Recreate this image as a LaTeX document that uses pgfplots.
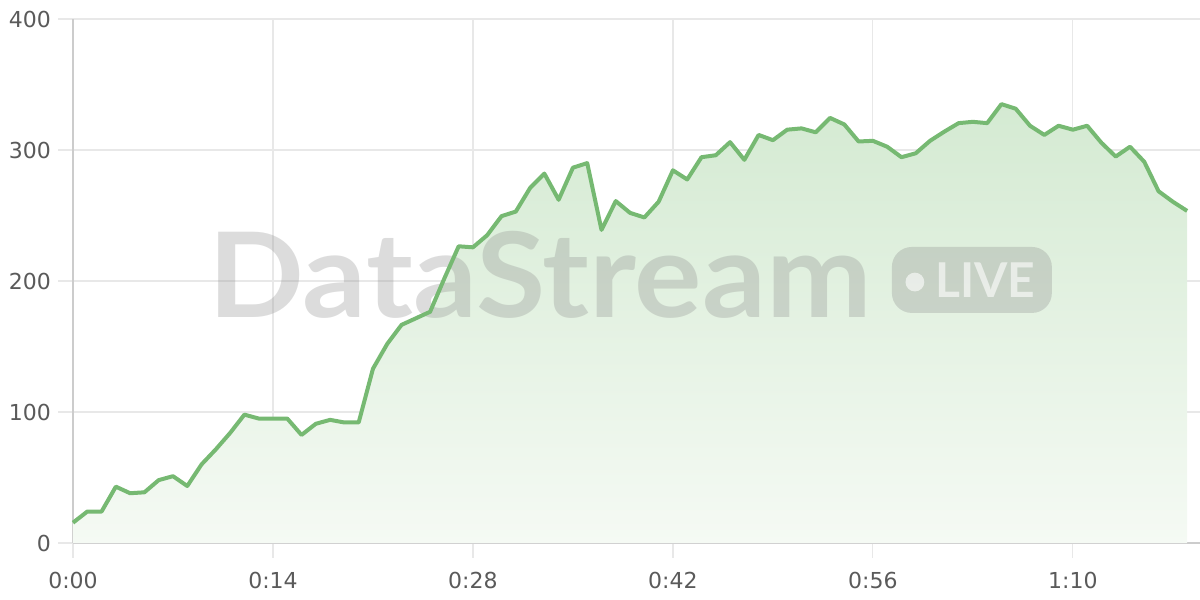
\documentclass[border=0pt]{standalone}
\usepackage{fontspec}
\setmainfont{DejaVu Sans}
\newfontfamily\wmfont{Lato}
\usepackage{pgfplots}
\usepackage{pgfplotstable}
\pgfplotsset{compat=1.18}
\definecolor{linegreen}{RGB}{118,185,114}
\definecolor{filltop}{RGB}{212,234,210}
\definecolor{fillbot}{RGB}{245,250,244}
\definecolor{gridgray}{RGB}{232,232,232}
\definecolor{axisgray}{RGB}{204,204,204}
\definecolor{labelgray}{RGB}{90,90,90}
\definecolor{wmgray}{RGB}{140,140,140}

\pgfplotstableread{
t v
0 15.5
1 24
2 24
3 43
4 38
5 38.7
6 48
7 51
8 43.5
9 60
10 71.5
11 84
12 98
13 95
14 95
15 95
16 82.5
17 91
18 94
19 92
20 92
21 133
22 152
23 166.5
24 171.5
25 176.5
26 202
27 226.5
28 225.7
29 235
30 249.5
31 253
32 271
33 282
34 262
35 286.5
36 290
37 239
38 261
39 252
40 248.5
41 260.5
42 284.5
43 277.5
44 294.5
45 296
46 306
47 292.5
48 311.5
49 307.5
50 315.5
51 316.5
52 313.5
53 324.5
54 319.5
55 306.5
56 307
57 302.5
58 294.5
59 297.5
60 307
61 314
62 320.5
63 321.5
64 320.5
65 335
66 331.5
67 318.5
68 311.5
69 318.5
70 315.5
71 318.5
72 305.5
73 295
74 302.5
75 291
76 268.5
77 260.5
78 253.5
}\datatable

\begin{document}
\begin{tikzpicture}
\useasboundingbox (-36.5pt,-28.5pt) rectangle (563.5pt,271.5pt);
\begin{axis}[
  at={(0,0)}, anchor=south west,
  scale only axis, width=563.5pt, height=262pt,
  xmin=0, xmax=78.9, ymin=0, ymax=400,
  axis x line*=bottom, axis y line*=left,
  axis line style={color=axisgray, line width=0.8pt, -},
  xtick={0,14,28,42,56,70},
  xticklabels={0:00,0:14,0:28,0:42,0:56,1:10},
  ytick={0,100,200,300,400},
  grid=major,
  major grid style={color=gridgray, line width=0.6pt},
  tick align=outside,
  major tick length=7.5pt,
  every tick/.style={color=gridgray, line width=0.6pt},
  tick label style={font=\fontsize{11}{13}\selectfont, text=labelgray},
  /pgf/number format/assume math mode=true,
  xticklabel style={yshift=-3.5pt},
  clip=false,
]
\addplot[draw=none, top color=filltop, bottom color=fillbot, forget plot] table[x=t,y=v] {\datatable} \closedcycle;
\node[font=\wmfont\bfseries\fontsize{59}{60}\selectfont, text=wmgray, text opacity=0.3, anchor=center, xscale=1.07]
  at (axis cs:32.7,204.6) {DataStream};
\fill[wmgray, opacity=0.3, rounded corners=10pt] (axis cs:57.33,175.6) rectangle (axis cs:68.53,226);
\fill[white, opacity=0.6] (axis cs:58.94,199.2) circle[radius=4.7pt];
\node[font=\wmfont\bfseries\fontsize{24}{25}\selectfont, text=white, text opacity=0.6, anchor=center]
  at (axis cs:63.87,200.4) {LIVE};
\addplot[linegreen, line width=2pt, line join=round] table[x=t,y=v] {\datatable};
\end{axis}
\end{tikzpicture}
\end{document}
